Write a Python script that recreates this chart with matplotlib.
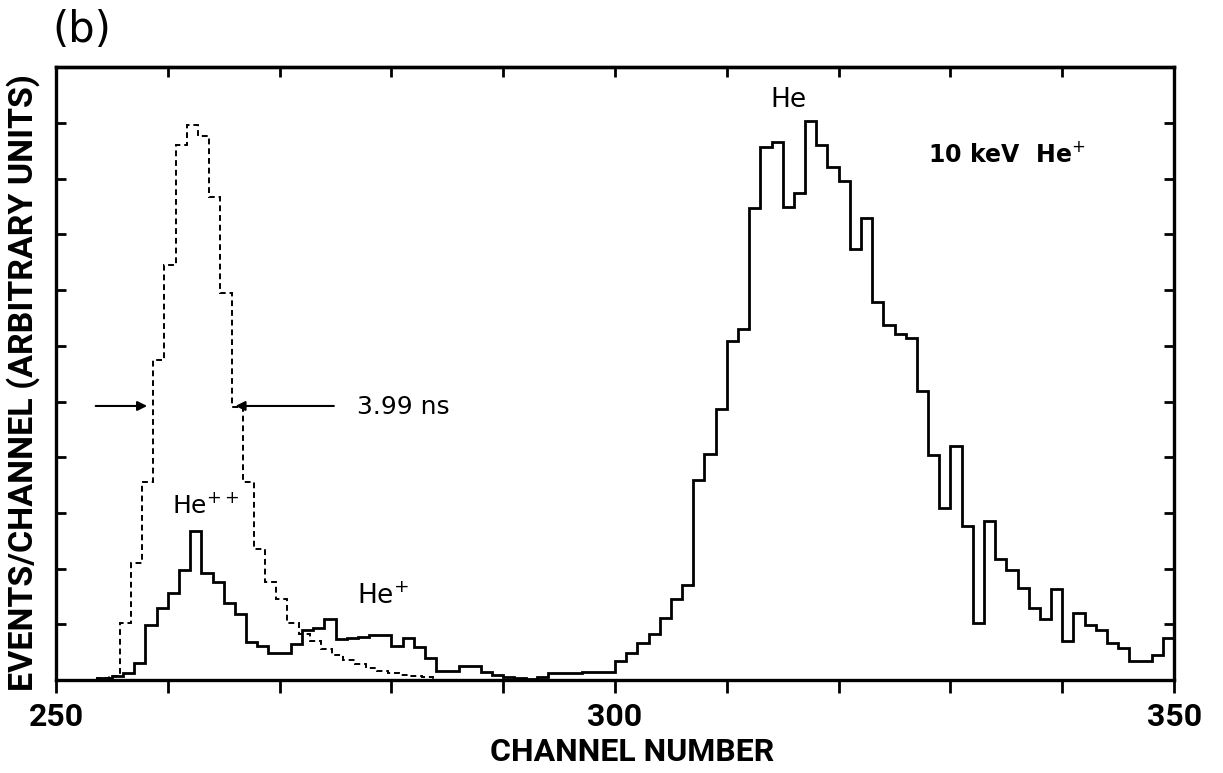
import numpy as np
import matplotlib
matplotlib.use("Agg")
import matplotlib.pyplot as plt

# solid spectrum (10 keV He+ on target), one value per channel from 254
solid_start = 254
solid_vals = [0.03, 0.08, 0.13, 0.30, 0.99, 1.29, 1.56, 1.97, 2.68, 1.93,
              1.76, 1.39, 1.19, 0.68, 0.61, 0.48, 0.48, 0.65, 0.90, 0.93,
              1.09, 0.73, 0.75, 0.78, 0.81, 0.81, 0.61, 0.75, 0.59, 0.39,
              0.17, 0.17, 0.25, 0.25, 0.15, 0.09, 0.05, 0.04, 0.02, 0.05,
              0.12, 0.12, 0.13, 0.15, 0.15, 0.15, 0.34, 0.49, 0.66, 0.82,
              1.12, 1.45, 1.71, 3.59, 4.06, 4.87, 6.09, 6.31, 8.47, 9.57,
              9.66, 8.49, 8.74, 10.03, 9.61, 9.21, 8.96, 7.73, 8.30, 6.78,
              6.38, 6.22, 6.14, 5.19, 4.04, 3.08, 4.20, 2.76, 1.02, 2.86,
              2.17, 1.97, 1.66, 1.29, 1.10, 1.63, 0.70, 1.21, 0.99, 0.89,
              0.66, 0.57, 0.34, 0.34, 0.45, 0.75]

# dashed reference peak
dash_start = 253.7
dash_vals = [0.03, 0.08, 1.02, 2.10, 3.55, 5.75, 7.45, 9.61, 9.97, 9.76,
             8.67, 6.95, 4.90, 3.55, 2.36, 1.76, 1.46, 1.02, 0.82, 0.70,
             0.56, 0.45, 0.36, 0.28, 0.22, 0.17, 0.12, 0.09, 0.07, 0.05]

half_max = 4.92
fwhm_left, fwhm_right = 258.4, 265.8

lab_font = ["Roboto", "DejaVu Sans"]

fig = plt.figure(figsize=(12.23, 7.73), dpi=100)
ax = fig.add_axes([0.0458, 0.1203, 0.9142, 0.7926])

solid_edges = solid_start + np.arange(len(solid_vals) + 1)
dash_edges = dash_start + np.arange(len(dash_vals) + 1)

ax.stairs(dash_vals, dash_edges, color="k", lw=1.4, linestyle=(0, (3, 2)))
ax.stairs(solid_vals, solid_edges, color="k", lw=2.0)

# FWHM arrows
ax.annotate("", xy=(fwhm_left, half_max), xytext=(253.3, half_max),
            arrowprops=dict(arrowstyle="-|>", lw=1.5, color="k", mutation_scale=14))
ax.annotate("", xy=(fwhm_right, half_max), xytext=(275.1, half_max),
            arrowprops=dict(arrowstyle="-|>", lw=1.5, color="k", mutation_scale=14))
ax.text(276.9, 4.77, "3.99 ns", fontsize=18, va="baseline", ha="left")

ax.text(263.4, 3.0, "He$^{++}$", fontsize=18, ha="center", va="baseline")
ax.text(279.2, 1.36, "He$^{+}$", fontsize=19, ha="center", va="baseline")
ax.text(315.5, 10.28, "He", fontsize=19, ha="center", va="baseline")
ax.text(328.0, 9.30, "10 keV  He$^{+}$", fontsize=17, fontweight="bold",
        ha="left", va="baseline")

ax.set_xlim(250, 350)
ax.set_ylim(0, 11)
ax.set_xticks(np.arange(250, 351, 10))
ax.set_xticklabels(["250", "", "", "", "", "300", "", "", "", "", "350"],
                   family=lab_font, fontweight="bold", fontsize=23)
ax.set_yticks(np.arange(1, 11))
ax.set_yticklabels([])
ax.tick_params(axis="x", which="both", direction="out", length=9, width=2,
               top=False, pad=7)
ax.tick_params(axis="y", direction="in", length=7, width=2, left=True, right=True)

# inward ticks on top edge
top = ax.secondary_xaxis("top")
top.set_xticks(np.arange(250, 351, 10))
top.set_xticklabels([])
top.tick_params(direction="in", length=7, width=2)
top.spines["top"].set_linewidth(2.4)

for s in ax.spines.values():
    s.set_linewidth(2.4)

fig.text(632 / 1223, 1 - 752 / 773, "CHANNEL NUMBER", family=lab_font,
         fontweight="bold", fontsize=23, ha="center", va="center")
fig.text(23 / 1223, 1 - 383 / 773, "EVENTS/CHANNEL (ARBITRARY UNITS)",
         family=lab_font, fontweight="bold", fontsize=24.5, rotation=90,
         ha="center", va="center")
fig.text(82 / 1223, 1 - 30 / 773, "(b)", fontsize=30, ha="center", va="center")

fig.savefig("out.png", dpi=100)
